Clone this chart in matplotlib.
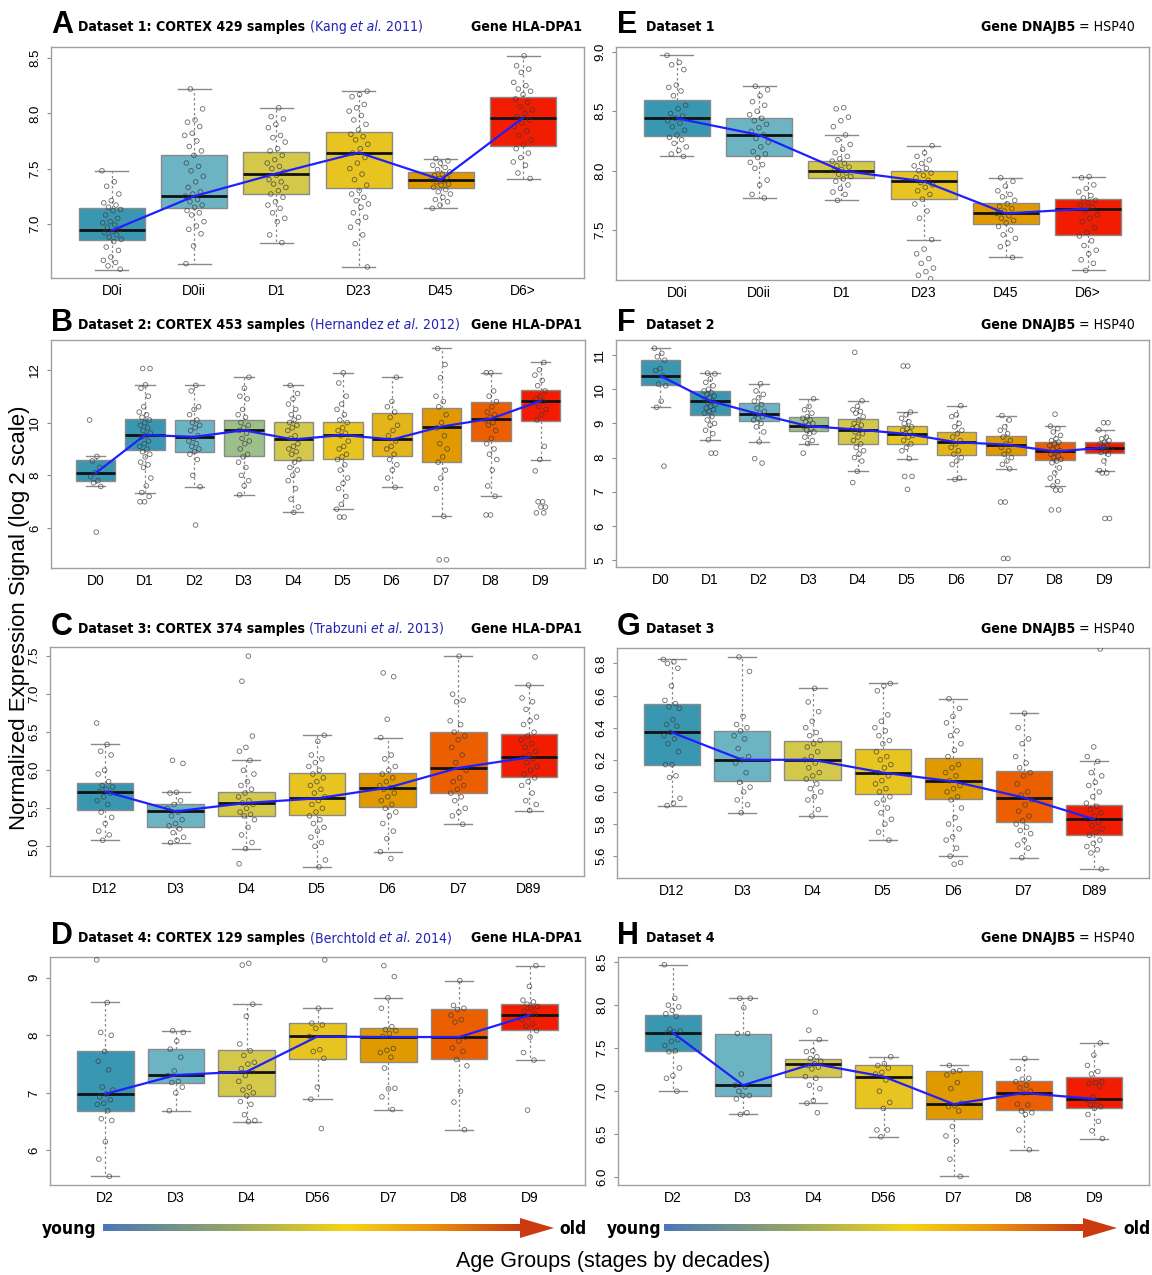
import numpy as np
import matplotlib.pyplot as plt
from matplotlib import font_manager as fm
from matplotlib.colors import LinearSegmentedColormap
from matplotlib.patches import Polygon

W, H = 1152, 1275

# box colours by age stage
TEAL = '#3a97b2'
LTEAL = '#6cb3c4'
GREEN = '#9dbf8a'
OLIVE = '#d4c84a'
YELLOW = '#e8c420'
GOLD = '#e4b51a'
ORANGE = '#e09a00'
DORANGE = '#ec5f00'
RED = '#f21c00'

# ---------------- Dataset 1 (6 groups) ----------------
d1_groups = ['D0i', 'D0ii', 'D1', 'D23', 'D45', 'D6>']
# stats: [whisker low, q1, median, q3, whisker high]
a_stats = [[6.585, 6.85, 6.94, 7.145, 7.48], [6.64, 7.14, 7.25, 7.62, 8.22],
           [6.83, 7.27, 7.455, 7.65, 8.05], [6.61, 7.32, 7.645, 7.83, 8.20],
           [7.14, 7.32, 7.40, 7.47, 7.59], [7.41, 7.70, 7.96, 8.145, 8.515]]
a_points = [
    [7.48, 7.38, 7.34, 7.27, 7.21, 7.19, 7.17, 7.15, 7.13, 7.12, 7.08, 7.05, 7.02, 7.01, 6.99,
     6.97, 6.95, 6.93, 6.92, 6.90, 6.88, 6.86, 6.84, 6.79, 6.76, 6.70, 6.67, 6.65, 6.62, 6.59],
    [8.22, 8.04, 7.94, 7.92, 7.88, 7.82, 7.80, 7.75, 7.70, 7.66, 7.62, 7.55, 7.52, 7.48, 7.43,
     7.38, 7.33, 7.29, 7.27, 7.25, 7.22, 7.20, 7.17, 7.15, 7.12, 7.10, 7.08, 7.02, 6.98, 6.95,
     6.91, 6.80, 6.64],
    [8.05, 7.97, 7.95, 7.90, 7.87, 7.80, 7.78, 7.74, 7.68, 7.66, 7.62, 7.58, 7.55, 7.52, 7.50,
     7.47, 7.44, 7.40, 7.38, 7.36, 7.33, 7.30, 7.27, 7.24, 7.20, 7.17, 7.14, 7.10, 7.05, 7.02,
     6.90, 6.83],
    [8.20, 8.17, 8.15, 8.08, 8.05, 8.02, 7.98, 7.94, 7.90, 7.85, 7.81, 7.79, 7.76, 7.72, 7.68,
     7.64, 7.60, 7.55, 7.50, 7.45, 7.40, 7.35, 7.30, 7.27, 7.24, 7.21, 7.18, 7.15, 7.10, 7.06,
     7.02, 6.97, 6.90, 6.82, 6.61],
    [7.59, 7.57, 7.55, 7.53, 7.51, 7.49, 7.47, 7.45, 7.44, 7.42, 7.41, 7.40, 7.39, 7.38, 7.36,
     7.35, 7.33, 7.31, 7.29, 7.27, 7.24, 7.22, 7.20, 7.17, 7.14],
    [8.52, 8.43, 8.40, 8.37, 8.28, 8.25, 8.22, 8.20, 8.17, 8.13, 8.10, 8.06, 8.03, 8.00, 7.97,
     7.94, 7.91, 7.88, 7.84, 7.80, 7.76, 7.72, 7.68, 7.64, 7.60, 7.56, 7.53, 7.46, 7.41],
]
e_stats = [[8.12, 8.29, 8.44, 8.59, 8.97], [7.77, 8.12, 8.30, 8.44, 8.71],
           [7.75, 7.94, 8.00, 8.08, 8.30], [7.42, 7.76, 7.91, 8.00, 8.21],
           [7.27, 7.55, 7.64, 7.73, 7.94], [7.16, 7.46, 7.68, 7.76, 7.95]]
e_points = [
    [8.97, 8.91, 8.89, 8.85, 8.72, 8.70, 8.67, 8.63, 8.55, 8.52, 8.48, 8.46, 8.44, 8.42, 8.40,
     8.37, 8.34, 8.30, 8.28, 8.26, 8.23, 8.20, 8.17, 8.14, 8.12],
    [8.71, 8.68, 8.63, 8.58, 8.55, 8.50, 8.47, 8.44, 8.42, 8.39, 8.36, 8.33, 8.30, 8.27, 8.24,
     8.20, 8.16, 8.14, 8.11, 8.07, 8.05, 8.02, 7.92, 7.88, 7.80, 7.77],
    [8.53, 8.52, 8.45, 8.42, 8.37, 8.30, 8.26, 8.22, 8.18, 8.15, 8.12, 8.10, 8.08, 8.06, 8.04,
     8.03, 8.01, 8.00, 7.98, 7.97, 7.95, 7.93, 7.91, 7.88, 7.85, 7.82, 7.80, 7.75],
    [8.21, 8.15, 8.12, 8.09, 8.06, 8.04, 8.02, 8.00, 7.98, 7.96, 7.94, 7.92, 7.90, 7.88, 7.86,
     7.83, 7.80, 7.76, 7.72, 7.66, 7.60, 7.42, 7.34, 7.30, 7.26, 7.22, 7.18, 7.15, 7.12, 7.09],
    [7.94, 7.91, 7.87, 7.83, 7.80, 7.78, 7.75, 7.72, 7.70, 7.68, 7.66, 7.64, 7.62, 7.60, 7.58,
     7.56, 7.53, 7.50, 7.46, 7.43, 7.39, 7.36, 7.27],
    [7.95, 7.94, 7.88, 7.85, 7.82, 7.79, 7.77, 7.75, 7.73, 7.71, 7.69, 7.66, 7.63, 7.60, 7.57,
     7.52, 7.48, 7.45, 7.41, 7.37, 7.33, 7.30, 7.25, 7.22, 7.16],
]

# ---------------- Dataset 2 (10 groups) ----------------
d2_groups = ['D0', 'D1', 'D2', 'D3', 'D4', 'D5', 'D6', 'D7', 'D8', 'D9']
b_stats = [[7.58, 7.80, 8.08, 8.60, 8.74], [7.35, 8.98, 9.53, 10.13, 11.43],
           [7.57, 8.88, 9.46, 10.08, 11.41], [7.26, 8.74, 9.71, 10.09, 11.72],
           [6.60, 8.60, 9.36, 10.04, 11.41], [6.72, 8.63, 9.53, 10.04, 11.89],
           [7.55, 8.72, 9.36, 10.35, 11.72], [6.45, 8.49, 9.85, 10.57, 12.81],
           [7.21, 9.32, 10.15, 10.78, 11.89], [8.60, 10.05, 10.82, 11.22, 12.28]]
b_points = [
    [10.1, 8.72, 8.55, 8.3, 8.1, 7.95, 7.8, 7.72, 7.58, 5.85],
    [12.05, 12.05, 11.43, 11.3, 11.0, 10.6, 10.4, 10.3, 10.2, 10.1, 10.0, 9.9, 9.8, 9.7, 9.6,
     9.5, 9.45, 9.3, 9.2, 9.1, 9.0, 8.9, 8.8, 8.7, 8.5, 8.4, 8.3, 7.9, 7.6, 7.35, 7.2, 7.0, 7.0],
    [11.41, 11.2, 10.6, 10.5, 10.3, 10.1, 10.0, 9.9, 9.8, 9.7, 9.5, 9.4, 9.3, 9.2, 9.1, 9.0,
     8.9, 8.8, 8.6, 8.0, 7.57, 6.12],
    [11.72, 11.3, 11.0, 10.9, 10.5, 10.3, 10.2, 10.0, 9.9, 9.8, 9.7, 9.6, 9.4, 9.3, 9.2, 9.0,
     8.8, 8.7, 8.5, 8.3, 8.0, 7.8, 7.6, 7.26],
    [11.41, 11.1, 10.9, 10.7, 10.5, 10.3, 10.2, 10.1, 10.0, 9.9, 9.8, 9.7, 9.5, 9.4, 9.2, 9.1,
     9.0, 8.9, 8.8, 8.6, 8.5, 8.3, 8.2, 8.0, 7.8, 7.5, 7.1, 6.8, 6.6],
    [11.89, 11.5, 11.0, 10.7, 10.5, 10.3, 10.1, 10.0, 9.8, 9.7, 9.6, 9.5, 9.3, 9.1, 9.0, 8.8,
     8.7, 8.6, 8.4, 8.2, 7.9, 7.7, 7.5, 7.2, 6.9, 6.72, 6.42, 6.42],
    [11.72, 10.8, 10.6, 10.4, 10.2, 9.9, 9.7, 9.5, 9.3, 9.1, 9.0, 8.8, 8.6, 8.4, 8.2, 7.9, 7.55],
    [12.81, 12.2, 11.7, 11.0, 10.8, 10.6, 10.3, 10.0, 9.8, 9.5, 9.2, 9.0, 8.7, 8.5, 8.2, 7.9,
     7.5, 6.45, 4.8, 4.8],
    [11.89, 11.89, 11.2, 11.0, 10.8, 10.6, 10.4, 10.3, 10.2, 10.1, 10.0, 9.9, 9.7, 9.4, 9.2,
     9.0, 8.8, 8.6, 8.2, 7.6, 7.21, 6.5, 6.5],
    [12.28, 12.0, 11.8, 11.6, 11.4, 11.2, 11.0, 10.9, 10.8, 10.6, 10.5, 10.3, 10.1, 9.1, 8.6,
     8.17, 7.0, 7.0, 6.8, 6.8, 6.58, 6.58],
]
f_stats = [[9.47, 10.11, 10.39, 10.85, 11.20], [8.52, 9.25, 9.66, 9.96, 10.47],
           [8.46, 9.07, 9.27, 9.59, 10.16], [8.41, 8.77, 8.92, 9.19, 9.72],
           [7.60, 8.39, 8.82, 9.12, 9.66], [7.97, 8.41, 8.69, 8.92, 9.33],
           [7.36, 8.08, 8.45, 8.75, 9.52], [7.67, 8.08, 8.38, 8.63, 9.23],
           [7.17, 7.93, 8.18, 8.46, 8.92], [7.62, 8.14, 8.29, 8.46, 8.81]]
f_points = [
    [11.2, 11.05, 10.95, 10.85, 10.6, 10.55, 10.39, 10.15, 10.1, 9.65, 9.47, 7.75],
    [10.47, 10.45, 10.3, 10.2, 10.1, 10.0, 9.95, 9.9, 9.85, 9.8, 9.75, 9.7, 9.65, 9.6, 9.55,
     9.5, 9.45, 9.4, 9.35, 9.3, 9.2, 9.1, 9.0, 8.95, 8.8, 8.7, 8.52, 8.13, 8.13],
    [10.16, 9.95, 9.85, 9.75, 9.65, 9.55, 9.45, 9.35, 9.3, 9.25, 9.2, 9.15, 9.1, 9.0, 8.9,
     8.75, 8.46, 7.97, 7.84],
    [9.72, 9.5, 9.4, 9.3, 9.2, 9.15, 9.1, 9.05, 9.0, 8.95, 8.9, 8.85, 8.8, 8.75, 8.7, 8.6,
     8.5, 8.41, 8.13],
    [11.08, 9.66, 9.5, 9.4, 9.35, 9.3, 9.2, 9.1, 9.0, 8.95, 8.9, 8.85, 8.8, 8.75, 8.7, 8.6,
     8.5, 8.4, 8.3, 8.2, 8.1, 8.0, 7.9, 7.6, 7.27],
    [10.68, 10.68, 9.33, 9.25, 9.15, 9.05, 9.0, 8.9, 8.85, 8.8, 8.75, 8.7, 8.65, 8.6, 8.5,
     8.4, 8.3, 8.2, 7.97, 7.45, 7.45, 7.07],
    [9.52, 9.25, 9.2, 9.0, 8.9, 8.8, 8.7, 8.6, 8.5, 8.4, 8.3, 8.2, 8.1, 8.0, 7.9, 7.8, 7.4, 7.36],
    [9.23, 9.1, 8.9, 8.8, 8.7, 8.6, 8.5, 8.4, 8.3, 8.2, 8.1, 8.0, 7.9, 7.8, 7.67, 6.7, 6.7,
     5.05, 5.05],
    [9.27, 8.92, 8.85, 8.75, 8.65, 8.55, 8.5, 8.45, 8.4, 8.35, 8.3, 8.25, 8.2, 8.15, 8.1,
     8.05, 8.0, 7.95, 7.9, 7.85, 7.7, 7.55, 7.4, 7.3, 7.17, 7.05, 7.05, 6.47, 6.47],
    [9.02, 9.02, 8.81, 8.6, 8.55, 8.5, 8.45, 8.4, 8.35, 8.3, 8.25, 8.2, 8.15, 8.1, 7.9, 7.62,
     7.55, 7.55, 6.22, 6.22],
]

# ---------------- Dataset 3 (7 groups) ----------------
d3_groups = ['D12', 'D3', 'D4', 'D5', 'D6', 'D7', 'D89']
c_stats = [[5.08, 5.48, 5.72, 5.83, 6.34], [5.05, 5.25, 5.46, 5.56, 5.71],
           [4.97, 5.40, 5.57, 5.72, 6.13], [4.73, 5.41, 5.63, 5.97, 6.46],
           [4.93, 5.52, 5.77, 5.96, 6.43], [5.29, 5.70, 6.03, 6.50, 7.50],
           [5.47, 5.91, 6.17, 6.48, 7.12]]
c_points = [
    [6.62, 6.34, 6.25, 6.2, 6.0, 5.95, 5.85, 5.8, 5.78, 5.75, 5.72, 5.7, 5.65, 5.6, 5.55,
     5.45, 5.38, 5.3, 5.2, 5.15, 5.08],
    [6.13, 6.09, 5.71, 5.7, 5.6, 5.55, 5.5, 5.45, 5.4, 5.35, 5.3, 5.27, 5.23, 5.18, 5.12,
     5.08, 5.05],
    [7.5, 7.17, 6.45, 6.3, 6.25, 6.13, 6.0, 5.95, 5.85, 5.8, 5.75, 5.7, 5.65, 5.6, 5.57, 5.55,
     5.5, 5.45, 5.42, 5.4, 5.35, 5.25, 5.15, 5.05, 4.97, 4.77],
    [6.46, 6.38, 6.2, 6.15, 6.1, 6.05, 6.0, 5.95, 5.9, 5.85, 5.8, 5.75, 5.7, 5.65, 5.6, 5.55,
     5.5, 5.45, 5.4, 5.35, 5.3, 5.25, 5.2, 5.12, 5.05, 5.0, 4.82, 4.73],
    [7.28, 7.23, 6.67, 6.43, 6.2, 6.15, 6.05, 6.0, 5.95, 5.9, 5.85, 5.8, 5.77, 5.75, 5.7,
     5.65, 5.6, 5.55, 5.5, 5.45, 5.4, 5.3, 5.2, 5.1, 4.93, 4.84],
    [7.5, 7.0, 6.92, 6.9, 6.65, 6.6, 6.5, 6.45, 6.4, 6.3, 6.2, 6.1, 6.0, 5.9, 5.85, 5.8, 5.75,
     5.7, 5.65, 5.6, 5.5, 5.45, 5.4, 5.29],
    [7.49, 7.12, 6.95, 6.9, 6.8, 6.7, 6.65, 6.6, 6.5, 6.45, 6.4, 6.35, 6.3, 6.25, 6.2, 6.17,
     6.15, 6.1, 6.05, 6.0, 5.95, 5.9, 5.85, 5.8, 5.7, 5.6, 5.55, 5.47],
]
g_stats = [[5.915, 6.17, 6.37, 6.545, 6.825], [5.87, 6.065, 6.20, 6.38, 6.84],
           [5.85, 6.075, 6.20, 6.32, 6.645], [5.70, 5.99, 6.12, 6.27, 6.675],
           [5.60, 5.955, 6.065, 6.21, 6.58], [5.59, 5.81, 5.965, 6.13, 6.49],
           [5.52, 5.73, 5.83, 5.92, 6.19]]
g_points = [
    [6.825, 6.81, 6.80, 6.77, 6.66, 6.57, 6.55, 6.53, 6.52, 6.45, 6.42, 6.41, 6.37, 6.35,
     6.33, 6.30, 6.25, 6.17, 6.17, 6.10, 6.09, 5.96, 5.93, 5.915],
    [6.84, 6.75, 6.47, 6.42, 6.40, 6.38, 6.35, 6.33, 6.27, 6.22, 6.20, 6.18, 6.12, 6.06, 6.03,
     6.00, 5.95, 5.92, 5.87],
    [6.645, 6.56, 6.50, 6.44, 6.40, 6.37, 6.35, 6.32, 6.30, 6.28, 6.25, 6.22, 6.20, 6.18,
     6.15, 6.12, 6.10, 6.08, 6.05, 6.02, 6.00, 5.97, 5.95, 5.89, 5.85],
    [6.675, 6.66, 6.63, 6.48, 6.44, 6.40, 6.38, 6.35, 6.32, 6.30, 6.25, 6.22, 6.20, 6.17,
     6.15, 6.12, 6.10, 6.07, 6.05, 6.02, 6.00, 5.97, 5.95, 5.93, 5.90, 5.87, 5.83, 5.80,
     5.75, 5.70],
    [6.58, 6.52, 6.47, 6.43, 6.38, 6.35, 6.30, 6.26, 6.22, 6.17, 6.15, 6.12, 6.10, 6.07, 6.04,
     6.02, 6.00, 5.97, 5.95, 5.90, 5.84, 5.80, 5.77, 5.72, 5.70, 5.65, 5.60, 5.56, 5.55],
    [6.49, 6.40, 6.33, 6.30, 6.22, 6.18, 6.15, 6.12, 6.10, 6.05, 6.00, 5.98, 5.95, 5.92, 5.88,
     5.85, 5.82, 5.80, 5.78, 5.76, 5.74, 5.70, 5.67, 5.65, 5.59],
    [6.89, 6.28, 6.22, 6.19, 6.12, 6.10, 6.06, 6.04, 6.00, 5.97, 5.93, 5.91, 5.89, 5.87, 5.85,
     5.83, 5.81, 5.79, 5.77, 5.75, 5.73, 5.70, 5.68, 5.66, 5.64, 5.62, 5.52],
]

# ---------------- Dataset 4 (7 groups) ----------------
d4_groups = ['D2', 'D3', 'D4', 'D56', 'D7', 'D8', 'D9']
d_stats = [[5.55, 6.69, 6.98, 7.72, 8.57], [6.69, 7.18, 7.31, 7.76, 8.08],
           [6.50, 6.95, 7.37, 7.74, 8.54], [6.89, 7.59, 7.98, 8.21, 8.47],
           [6.71, 7.53, 7.97, 8.12, 8.65], [6.36, 7.59, 7.97, 8.46, 8.95],
           [7.57, 8.10, 8.35, 8.55, 9.21]]
d_points = [
    [9.31, 8.57, 8.05, 8.0, 7.72, 7.55, 7.4, 7.1, 7.05, 6.98, 6.93, 6.88, 6.82, 6.8, 6.69,
     6.55, 6.52, 6.15, 5.85, 5.55],
    [8.08, 8.05, 7.9, 7.76, 7.62, 7.38, 7.3, 7.2, 7.18, 7.1, 7.0, 6.69],
    [9.25, 9.22, 8.54, 8.33, 7.85, 7.73, 7.65, 7.53, 7.5, 7.42, 7.37, 7.3, 7.2, 7.1, 7.05,
     7.0, 6.95, 6.85, 6.8, 6.62, 6.52, 6.5],
    [9.31, 8.47, 8.21, 8.18, 8.12, 7.98, 7.75, 7.72, 7.6, 7.1, 6.89, 6.38],
    [9.21, 9.02, 8.65, 8.47, 8.15, 8.1, 8.08, 8.03, 7.98, 7.77, 7.74, 7.7, 7.62, 7.43, 7.08,
     7.07, 6.93, 6.71],
    [8.95, 8.52, 8.47, 8.45, 8.35, 8.27, 8.23, 7.97, 7.9, 7.78, 7.72, 7.58, 7.47, 7.03, 6.84,
     6.36],
    [9.21, 8.85, 8.61, 8.58, 8.54, 8.5, 8.47, 8.42, 8.37, 8.32, 8.27, 8.2, 8.16, 8.08, 7.97,
     7.7, 7.57, 6.70],
]
h_stats = [[7.00, 7.47, 7.68, 7.89, 8.47], [6.73, 6.95, 7.07, 7.67, 8.08],
           [6.86, 7.17, 7.32, 7.38, 7.60], [6.47, 6.80, 7.17, 7.30, 7.40],
           [6.01, 6.68, 6.85, 7.23, 7.30], [6.32, 6.78, 6.98, 7.12, 7.38],
           [6.45, 6.81, 6.91, 7.16, 7.56]]
h_points = [
    [8.47, 8.08, 8.0, 7.98, 7.94, 7.9, 7.87, 7.72, 7.70, 7.69, 7.68, 7.6, 7.58, 7.53, 7.47,
     7.46, 7.27, 7.18, 7.15, 7.0],
    [8.08, 8.08, 7.97, 7.67, 7.67, 7.2, 7.07, 7.05, 7.0, 6.95, 6.95, 6.91, 6.75, 6.73],
    [7.92, 7.71, 7.6, 7.47, 7.46, 7.4, 7.38, 7.35, 7.32, 7.3, 7.28, 7.26, 7.17, 7.15, 7.07,
     7.03, 6.89, 6.86, 6.75],
    [7.40, 7.32, 7.3, 7.27, 7.22, 7.2, 7.13, 7.0, 6.87, 6.8, 6.55, 6.55, 6.47],
    [7.30, 7.24, 7.23, 7.19, 7.1, 7.03, 6.86, 6.83, 6.82, 6.77, 6.59, 6.48, 6.42, 6.21, 6.01],
    [7.38, 7.26, 7.15, 7.14, 7.11, 7.07, 7.04, 7.0, 6.98, 6.85, 6.84, 6.77, 6.75, 6.73, 6.55,
     6.32],
    [7.56, 7.42, 7.3, 7.23, 7.2, 7.11, 7.1, 7.09, 7.06, 6.93, 6.9, 6.88, 6.84, 6.82, 6.8,
     6.73, 6.65, 6.54, 6.45],
]

six_cols = [TEAL, LTEAL, OLIVE, YELLOW, ORANGE, RED]
ten_cols = [TEAL, TEAL, LTEAL, GREEN, OLIVE, YELLOW, GOLD, ORANGE, DORANGE, RED]
seven_cols = [TEAL, LTEAL, OLIVE, YELLOW, ORANGE, DORANGE, RED]

# pick a narrow face for the titles if one is installed
plt.rcParams['font.family'] = ['Liberation Sans', 'DejaVu Sans']
installed = {f.name for f in fm.fontManager.ttflist}
dejavu_cond = any(f.name == 'DejaVu Sans' and 'condensed' in str(f.stretch)
                  for f in fm.fontManager.ttflist)
if 'Liberation Sans Narrow' in installed:
    NARROW = dict(family=['Liberation Sans Narrow', 'DejaVu Sans'])
elif dejavu_cond:
    NARROW = dict(family=['DejaVu Sans'], fontstretch='condensed')
else:
    NARROW = dict(family=['Roboto', 'DejaVu Sans'])

fig = plt.figure(figsize=(W / 100, H / 100), dpi=100)
renderer = fig.canvas.get_renderer()


def fit_size(s, width_px, weight='bold'):
    # font size that gives the text the width it has in the reference
    probe = fig.text(0, 0, s, fontsize=10, fontweight=weight, **NARROW)
    w = probe.get_window_extent(renderer).width
    probe.remove()
    return 10 * width_px / w


TSIZE = fit_size('Dataset 1: CORTEX 429 samples', 228)
YSIZE = fit_size('young', 54)


def px_rect(l, t, r, b):
    return [l / W, 1 - b / H, (r - l) / W, (b - t) / H]


def draw_panel(rect, groups, stats, points, colors, ylim, yticks, yfmt):
    ax = fig.add_axes(px_rect(*rect))
    n = len(groups)
    pos = np.arange(1, n + 1)
    bstats = [dict(whislo=s[0], q1=s[1], med=s[2], q3=s[3], whishi=s[4], label=g, fliers=[])
              for g, s in zip(groups, stats)]
    res = ax.bxp(bstats, positions=pos, widths=0.8, patch_artist=True, showfliers=False,
                 capwidths=0.4,
                 boxprops=dict(edgecolor='#8a8a8a', linewidth=1.0),
                 medianprops=dict(color='#111111', linewidth=2.0),
                 whiskerprops=dict(color='#8a8a8a', linewidth=0.9, linestyle=(0, (2, 2))),
                 capprops=dict(color='#8a8a8a', linewidth=1.0))
    for patch, c in zip(res['boxes'], colors):
        patch.set_facecolor(c)
    # points spread sideways with a fixed low-discrepancy offset
    for i, vals in enumerate(points):
        k = np.arange(len(vals))
        off = ((k * 0.618034 + 0.31 * i) % 1 - 0.5) * 0.24
        ax.scatter(pos[i] + off, vals, s=11, facecolors='none', edgecolors='#3a3a3a',
                   linewidths=0.6, alpha=0.75, zorder=3)
    ax.plot(pos, [s[2] for s in stats], color='#2020ff', lw=1.6, zorder=4)
    ax.set_xlim(0.5 - 0.04 * n, n + 0.5 + 0.04 * n)
    ax.set_ylim(*ylim)
    ax.set_yticks(yticks)
    ax.set_yticklabels([yfmt.format(v) for v in yticks], rotation=90, va='center', fontsize=9.5)
    ax.set_xticks(pos)
    ax.set_xticklabels(groups, fontsize=10)
    ax.tick_params(axis='x', length=0, pad=4)
    ax.tick_params(axis='y', length=3, color='#8a8a8a', pad=4)
    for sp in ax.spines.values():
        sp.set_color('#a0a0a0')
        sp.set_linewidth(1.0)
    return ax


def mixed(x, y, parts, ha='left'):
    # successive text pieces attached to each other's bounding boxes
    seq = parts if ha == 'left' else parts[::-1]
    first = seq[0]
    prev = fig.text(x / W, 1 - y / H, first[0], color=first[1], fontweight=first[2],
                    style=first[3], fontsize=TSIZE, va='baseline', ha=ha, **NARROW)
    for txt, c, w, s in seq[1:]:
        xy = (1, 0) if ha == 'left' else (0, 0)
        prev = fig.add_artist(plt.Annotation(txt, xy=xy, xycoords=prev, color=c, fontweight=w,
                                             style=s, fontsize=TSIZE, va='bottom', ha=ha,
                                             **NARROW))
    return prev


def letter(x, y, s):
    fig.text(x / W, 1 - y / H, s, fontsize=22, fontweight='bold', va='baseline', ha='left')


BLUE = '#2424b4'
K = 'black'
panels_left = [
    ('A', 31, 'Dataset 1: CORTEX 429 samples ', 'Kang ', ' 2011)'),
    ('B', 329, 'Dataset 2: CORTEX 453 samples ', 'Hernandez ', ' 2012)'),
    ('C', 633, 'Dataset 3: CORTEX 374 samples ', 'Trabzuni ', ' 2013)'),
    ('D', 942, 'Dataset 4: CORTEX 129 samples ', 'Berchtold ', ' 2014)'),
]
for L, y, head, author, year in panels_left:
    letter(51, y + 2, L)
    mixed(78, y, [(head, K, 'bold', 'normal'), ('(' + author, BLUE, 'normal', 'normal'),
                  ('et al.', BLUE, 'normal', 'italic'), (year, BLUE, 'normal', 'normal')])
    mixed(582, y, [('Gene HLA-DPA1', K, 'bold', 'normal')], ha='right')

for L, y, name in [('E', 31, 'Dataset 1'), ('F', 329, 'Dataset 2'),
                   ('G', 633, 'Dataset 3'), ('H', 942, 'Dataset 4')]:
    letter(617, y + 2, L)
    mixed(646, y, [(name, K, 'bold', 'normal')])
    mixed(1135, y, [('Gene DNAJB5', K, 'bold', 'normal'), (' = HSP40', K, 'normal', 'normal')],
          ha='right')

draw_panel((51, 47, 584, 278), d1_groups, a_stats, a_points, six_cols, (6.51, 8.6),
           [7.0, 7.5, 8.0, 8.5], '{:.1f}')
draw_panel((616, 47, 1149, 280), d1_groups, e_stats, e_points, six_cols, (7.08, 9.04),
           [7.5, 8.0, 8.5, 9.0], '{:.1f}')
draw_panel((51, 340, 585, 568), d2_groups, b_stats, b_points, ten_cols, (4.49, 13.13),
           [6, 8, 10, 12], '{:d}')
draw_panel((616, 340, 1149, 567), d2_groups, f_stats, f_points, ten_cols, (4.8, 11.44),
           [5, 6, 7, 8, 9, 10, 11], '{:d}')
draw_panel((50, 647, 584, 876), d3_groups, c_stats, c_points, seven_cols, (4.61, 7.62),
           [5.0, 5.5, 6.0, 6.5, 7.0, 7.5], '{:.1f}')
draw_panel((617, 648, 1149, 878), d3_groups, g_stats, g_points, seven_cols, (5.464, 6.896),
           [5.6, 5.8, 6.0, 6.2, 6.4, 6.6, 6.8], '{:.1f}')
draw_panel((50, 957, 585, 1185), d4_groups, d_stats, d_points, seven_cols, (5.40, 9.36),
           [6, 7, 8, 9], '{:d}')
draw_panel((618, 957, 1149, 1185), d4_groups, h_stats, h_points, seven_cols, (5.91, 8.56),
           [6.0, 6.5, 7.0, 7.5, 8.0, 8.5], '{:.1f}')

# young -> old arrows
age_cmap = LinearSegmentedColormap.from_list(
    'age', [(0.0, '#4a78b8'), (0.3, '#93a568'), (0.58, '#f6d414'), (0.78, '#ec9512'),
            (1.0, '#c93a10')])


def age_arrow(x0, x1, yc):
    ax = fig.add_axes(px_rect(x0, yc - 11, x1, yc + 11))
    ax.set_xlim(0, x1 - x0)
    ax.set_ylim(-11, 11)
    ax.axis('off')
    head = 34
    ax.imshow(np.linspace(0, 1, 256)[None, :], cmap=age_cmap, aspect='auto',
              extent=(0, x1 - x0 - head + 2, -3.3, 3.3))
    ax.add_patch(Polygon([(x1 - x0 - head, -10), (x1 - x0, 0), (x1 - x0 - head, 10)],
                         closed=True, color='#cc3a10', lw=0))


age_arrow(103, 554, 1228)
age_arrow(664, 1117, 1228)
for x, s, ha in [(42, 'young', 'left'), (559, 'old', 'left'), (607, 'young', 'left'),
                 (1150, 'old', 'right')]:
    fig.text(x / W, 1 - 1234 / H, s, fontsize=YSIZE, fontweight='bold', va='baseline',
             ha=ha, **NARROW)

fig.text(613 / W, 1 - 1262 / H, 'Age Groups (stages by decades)', fontsize=15.5,
         ha='center', va='center')
fig.text(20 / W, 1 - 618 / H, 'Normalized Expression Signal (log 2 scale)', fontsize=16,
         rotation=90, ha='center', va='center')

fig.savefig('out.png', dpi=100)
